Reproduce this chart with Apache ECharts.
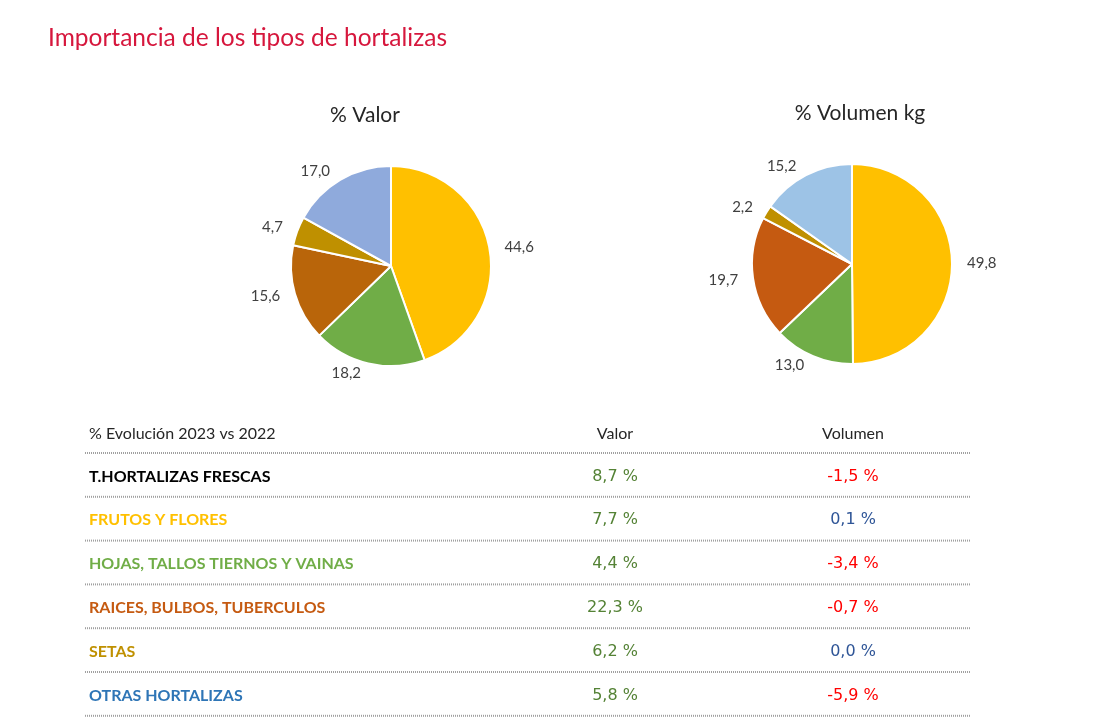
<!DOCTYPE html>
<html>
<head>
<meta charset="utf-8">
<script src="https://cdn.jsdelivr.net/npm/echarts@6/dist/echarts.min.js"></script>
<style>
  html, body { margin: 0; background: #fff; }
  #chart { width: 1113px; height: 726px; }
</style>
</head>
<body>
<div id="chart"></div>
<script>
// pie data (% share)
const tipos = ['FRUTOS Y FLORES', 'HOJAS, TALLOS TIERNOS Y VAINAS', 'RAICES, BULBOS, TUBERCULOS', 'SETAS', 'OTRAS HORTALIZAS'];
const valorPct = [44.6, 18.2, 15.6, 4.7, 17.0];
const volumenPct = [49.8, 13.0, 19.7, 2.2, 15.2];
const coloresValor = ['#FFC000', '#70AD47', '#B9650A', '#BF9000', '#8FAADC'];
const coloresVolumen = ['#FFC000', '#70AD47', '#C55A11', '#BF9000', '#9DC3E6'];

// evolution table
const filas = ['T.HORTALIZAS FRESCAS'].concat(tipos);
const coloresFilas = ['#000000', '#FFC000', '#70AD47', '#C55A11', '#BF9000', '#2E75B6'];
const evolValor = [8.7, 7.7, 4.4, 22.3, 6.2, 5.8];
const evolVolumen = [-1.5, 0.1, -3.4, -0.7, 0.0, -5.9];

const fmt = v => v.toFixed(1).replace('.', ',');
const calibri = 'Lato, "Open Sans", sans-serif';

const chart = echarts.init(document.getElementById('chart'));

const makePie = (name, values, colors, center) => ({
  name: name,
  type: 'pie',
  radius: 100,
  center: center,
  startAngle: 90,
  clockwise: true,
  avoidLabelOverlap: false,
  silent: true,
  itemStyle: { borderColor: '#fff', borderWidth: 2 },
  label: {
    show: true,
    position: 'outside',
    formatter: p => fmt(p.value),
    color: '#404040',
    fontSize: 15,
    fontFamily: calibri
  },
  labelLine: { show: false, length: 10, length2: 0 },
  data: values.map((v, i) => ({ name: tipos[i], value: v, itemStyle: { color: colors[i] } }))
});

// table layout
const tableLeft = 85;
const tableRight = 970;
const headerY = 434;
const firstLine = 453;
const rowH = 43.8;
const colValor = 615;
const colVolumen = 853;
const valueFont = '16px "DejaVu Sans", sans-serif';

const graphics = [];
graphics.push({ type: 'text', x: 89, y: headerY, style: { text: '% Evolución 2023 vs 2022', fill: '#262626', font: '16px ' + calibri, textVerticalAlign: 'middle' } });
graphics.push({ type: 'text', x: colValor, y: headerY, style: { text: 'Valor', fill: '#262626', font: '16px ' + calibri, textAlign: 'center', textVerticalAlign: 'middle' } });
graphics.push({ type: 'text', x: colVolumen, y: headerY, style: { text: 'Volumen', fill: '#262626', font: '16px ' + calibri, textAlign: 'center', textVerticalAlign: 'middle' } });

for (let i = 0; i <= filas.length; i++) {
  const y = firstLine + i * rowH;
  graphics.push({
    type: 'line',
    shape: { x1: tableLeft, y1: y, x2: tableRight, y2: y },
    style: { stroke: '#A0A0A0', lineWidth: 2, lineDash: [1, 1] }
  });
}

filas.forEach((f, i) => {
  const cy = firstLine + (i + 0.5) * rowH + 1.5;
  graphics.push({ type: 'text', x: 89, y: cy, style: { text: f, fill: coloresFilas[i], font: 'bold 16px ' + calibri, textVerticalAlign: 'middle' } });
  graphics.push({ type: 'text', x: colValor, y: cy, style: { text: fmt(evolValor[i]) + ' %', fill: '#548235', font: valueFont, textAlign: 'center', textVerticalAlign: 'middle' } });
  graphics.push({ type: 'text', x: colVolumen, y: cy, style: { text: fmt(evolVolumen[i]) + ' %', fill: evolVolumen[i] < 0 ? '#FF0000' : '#2F5597', font: valueFont, textAlign: 'center', textVerticalAlign: 'middle' } });
});

const option = {
  backgroundColor: '#fff',
  animation: false,
  title: [
    { text: 'Importancia de los tipos de hortalizas', left: 43, top: 21, textStyle: { color: '#D6173D', fontSize: 24.5, fontWeight: 'normal', fontFamily: calibri } },
    { text: '% Valor', left: 360, top: 100, textAlign: 'center', textStyle: { color: '#262626', fontSize: 21, fontWeight: 'normal', fontFamily: calibri } },
    { text: '% Volumen kg', left: 855, top: 98, textAlign: 'center', textStyle: { color: '#262626', fontSize: 21, fontWeight: 'normal', fontFamily: calibri } }
  ],
  series: [
    makePie('% Valor', valorPct, coloresValor, [391, 266]),
    makePie('% Volumen kg', volumenPct, coloresVolumen, [852, 264])
  ],
  graphic: graphics
};

chart.setOption(option);
</script>
</body>
</html>
